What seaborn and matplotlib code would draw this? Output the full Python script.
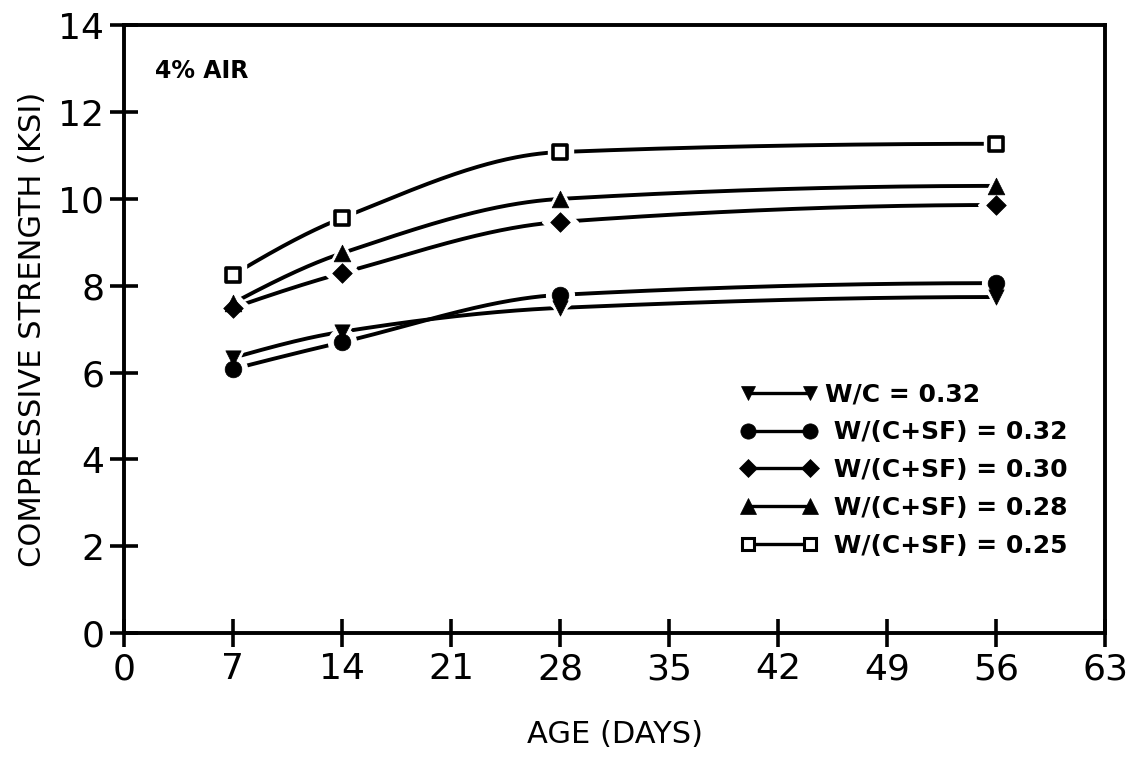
import numpy as np
import pandas as pd
import matplotlib
matplotlib.use("Agg")
import matplotlib.pyplot as plt
from matplotlib.lines import Line2D
import seaborn as sns

# Test ages (days) and compressive strength (ksi) for each mix
age_days = [7, 14, 28, 56]
wc_032 = [6.34, 6.94, 7.49, 7.74]
wcsf_032 = [6.08, 6.70, 7.79, 8.06]
wcsf_030 = [7.49, 8.29, 9.47, 9.86]
wcsf_028 = [7.60, 8.75, 10.00, 10.30]
wcsf_025 = [8.25, 9.56, 11.08, 11.27]

series_labels = ["W/C = 0.32", " W/(C+SF) = 0.32", " W/(C+SF) = 0.30",
                 " W/(C+SF) = 0.28", " W/(C+SF) = 0.25"]
x_ticks = [0, 7, 14, 21, 28, 35, 42, 49, 56, 63]
y_ticks = [0, 2, 4, 6, 8, 10, 12, 14]

sns.set_style("ticks")
plt.rcParams["font.family"] = ["DejaVu Sans"]
plt.rcParams.update({
    "text.color": "black", "axes.labelcolor": "black",
    "xtick.color": "black", "ytick.color": "black",
    "axes.edgecolor": "black",
})

values = [wc_032, wcsf_032, wcsf_030, wcsf_028, wcsf_025]
markers = ["v", "o", "D", "^", "s"]
msizes = [11, 12, 10, 12, 10]
faces = ["black", "black", "black", "black", "white"]

df = pd.DataFrame({
    "age": np.tile(age_days, len(values)),
    "strength": np.concatenate(values),
    "mix": np.repeat(series_labels, len(age_days)),
})


def pchip(x, y, xs):
    """Shape-preserving cubic through the measured points."""
    x = np.asarray(x, float)
    y = np.asarray(y, float)
    h = np.diff(x)
    d = np.diff(y) / h
    m = np.zeros_like(y)
    for k in range(1, len(x) - 1):
        if d[k - 1] * d[k] > 0:
            w1 = 2 * h[k] + h[k - 1]
            w2 = h[k] + 2 * h[k - 1]
            m[k] = (w1 + w2) / (w1 / d[k - 1] + w2 / d[k])
    m[0] = ((2 * h[0] + h[1]) * d[0] - h[0] * d[1]) / (h[0] + h[1])
    if np.sign(m[0]) != np.sign(d[0]):
        m[0] = 0
    m[-1] = ((2 * h[-1] + h[-2]) * d[-1] - h[-1] * d[-2]) / (h[-1] + h[-2])
    if np.sign(m[-1]) != np.sign(d[-1]):
        m[-1] = 0
    idx = np.clip(np.searchsorted(x, xs) - 1, 0, len(x) - 2)
    t = (xs - x[idx]) / h[idx]
    h00 = 2 * t**3 - 3 * t**2 + 1
    h10 = t**3 - 2 * t**2 + t
    h01 = -2 * t**3 + 3 * t**2
    h11 = t**3 - t**2
    return (h00 * y[idx] + h10 * h[idx] * m[idx]
            + h01 * y[idx + 1] + h11 * h[idx] * m[idx + 1])


fig, ax = plt.subplots(figsize=(11.37, 7.66), dpi=100)
fig.subplots_adjust(left=0.109, right=0.972, bottom=0.1736, top=0.967)

xs = np.linspace(age_days[0], age_days[-1], 400)
for vals in values:
    ax.plot(xs, pchip(age_days, vals, xs), color="black", lw=2.8,
            zorder=2, solid_capstyle="butt")

# white halos leave a small gap between each curve and its markers
for lab, mk, ms in zip(series_labels, markers, msizes):
    sub = df[df["mix"] == lab]
    ax.plot(sub["age"], sub["strength"], ls="none", marker=mk,
            ms=ms + 8, mfc="white", mec="white", zorder=3)

for lab, mk, ms, fc in zip(series_labels, markers, msizes, faces):
    sub = df[df["mix"] == lab]
    sns.scatterplot(data=sub, x="age", y="strength", ax=ax, marker=mk,
                    s=ms**2, color=fc, edgecolor="black",
                    linewidth=2.6 if fc == "white" else 0.5,
                    zorder=4, legend=False)

ax.set_xlim(0, 63)
ax.set_ylim(0, 14)
ax.set_xticks(x_ticks)
ax.set_yticks(y_ticks)
ax.tick_params(direction="inout", length=20, width=2.6, labelsize=26, pad=4)
for sp in ax.spines.values():
    sp.set_visible(True)
    sp.set_linewidth(2.8)

ax.set_xlabel("AGE (DAYS)", fontsize=22, labelpad=24)
ax.set_ylabel("COMPRESSIVE STRENGTH (KSI)", fontsize=22, labelpad=8)

ax.text(0.032, 0.925, "4% AIR", transform=ax.transAxes, fontsize=17,
        fontweight="bold", va="center", ha="left")

handles = [Line2D([0], [0], color="black", lw=2.4, marker=mk, ms=ms - 1,
                  mfc=fc, mec="black", mew=2.2 if fc == "white" else 0.5)
           for mk, ms, fc in zip(markers, msizes, faces)]
leg = ax.legend(handles, series_labels, loc="lower right",
                bbox_to_anchor=(0.985, 0.087), frameon=False, numpoints=2,
                handlelength=3.1, handletextpad=0.3, labelspacing=0.55,
                prop={"size": 18, "weight": "bold"})

fig.savefig("out.png", dpi=100)
